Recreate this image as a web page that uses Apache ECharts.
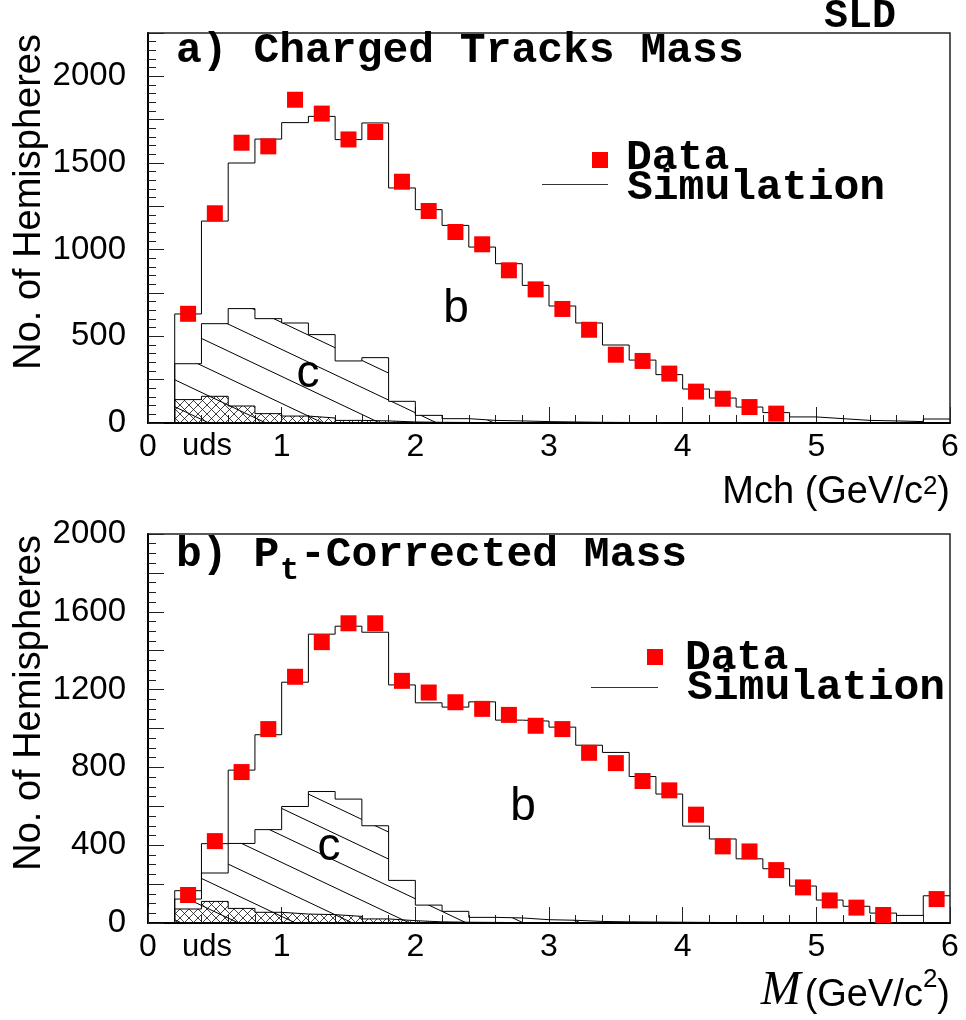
<!doctype html>
<html>
<head>
<meta charset="UTF-8">
<title>SLD hemisphere mass</title>
<script src="https://cdn.jsdelivr.net/npm/echarts@6/dist/echarts.min.js"></script>
<style>
  html, body { margin: 0; padding: 0; background: #fff; }
  #chart { width: 966px; height: 1020px; }
</style>
</head>
<body>
<div id="chart"></div>
<script>
// bins of 0.2 GeV/c2, lower edges
var binLow = [0.2, 0.4, 0.6, 0.8, 1.0, 1.2, 1.4, 1.6, 1.8, 2.0,
              2.2, 2.4, 2.6, 2.8, 3.0, 3.2, 3.4, 3.6, 3.8, 4.0,
              4.2, 4.4, 4.6, 4.8, 5.0, 5.2, 5.4, 5.6, 5.8];
var binWidth = 0.2;

// a) charged tracks mass
var dataA = [630, 1210, 1617, 1596, 1865, 1785, 1636, 1679, 1392, 1223,
             1102, 1031, 881, 771, 658, 538, 394, 358, 285, 181,
             140, 92, 54, null, null, null, null, null, null];
var simA  = [629, 1165, 1500, 1638, 1733, 1769, 1635, 1731, 1356, 1231,
             1140, 1015, 919, 794, 675, 577, 450, 363, 279, 196,
             144, 92, 60, 35, 25, 15, 12, 8, 23];
var charmA = [342, 573, 660, 602, 577, 510, 358, 377, 125, 44,
              25, 15, 12, 8, 6, 4, 3, 2, 2, 1,
              1, 0, 0, 0, 0, 0, 0, 0, 0];
var udsA  = [135, 154, 98, 54, 40, 29, 15, 12, 6, 4,
             3, 2, 1, 1, 0, 0, 0, 0, 0, 0,
             0, 0, 0, 0, 0, 0, 0, 0, 0];

// b) Pt-corrected mass
var dataB = [144, 421, 776, 997, 1266, 1444, 1541, 1541, 1245, 1185,
             1135, 1101, 1070, 1014, 997, 875, 822, 730, 682, 557,
             394, 368, 272, 183, 116, 79, 41, null, 123];
var simB  = [166, 408, 786, 968, 1238, 1485, 1526, 1495, 1224, 1132,
             1110, 1137, 1043, 1038, 1007, 914, 877, 753, 663, 498,
             432, 330, 279, 190, 118, 86, 51, 39, 140];
var charmB = [123, 257, 409, 480, 599, 676, 637, 500, 219, 92,
              60, 29, 26, 17, 14, 8, 6, 5, 4, 3,
              2, 2, 1, 1, 1, 0, 0, 0, 0];
var udsB  = [72, 111, 75, 55, 46, 43, 34, 21, 12, 6,
             4, 3, 2, 1, 1, 0, 0, 0, 0, 0,
             0, 0, 0, 0, 0, 0, 0, 0, 0];

var xTicks = [0, 6, 1];           // min, max, step
var yTopA = 2250, yStepA = 250, yLabA = 500;
var yTopB = 2000, yStepB = 200, yLabB = 400;

var SANS = '"Liberation Sans", Arial, sans-serif';
var MONO = '"Liberation Mono", "Courier New", monospace';

// hatch tiles
function hatch() {
  var w = 57, h = 27;
  var c = document.createElement('canvas');
  c.width = w; c.height = h;
  var ctx = c.getContext('2d');
  ctx.strokeStyle = '#000';
  ctx.lineWidth = 1;
  for (var k = -1; k <= 1; k++) {
    ctx.beginPath();
    ctx.moveTo(k * w - w, -h);
    ctx.lineTo(k * w + 2 * w, 2 * h);
    ctx.stroke();
  }
  return { image: c, repeat: 'repeat' };
}
function crossHatch() {
  var s = 9;
  var c = document.createElement('canvas');
  c.width = s; c.height = s;
  var ctx = c.getContext('2d');
  ctx.strokeStyle = '#111';
  ctx.lineWidth = 0.8;
  ctx.beginPath();
  ctx.moveTo(-1, -1); ctx.lineTo(s + 1, s + 1);
  ctx.moveTo(s + 1, -1); ctx.lineTo(-1, s + 1);
  ctx.stroke();
  return { image: c, repeat: 'repeat' };
}

function stepData(vals) {
  var d = [[binLow[0], 0]];
  for (var i = 0; i < binLow.length; i++) d.push([binLow[i], vals[i]]);
  var last = binLow.length - 1;
  d.push([binLow[last] + binWidth, vals[last]]);
  return d;
}
function pointData(vals) {
  var d = [];
  for (var i = 0; i < binLow.length; i++) {
    if (vals[i] != null) d.push([binLow[i] + binWidth / 2, vals[i]]);
  }
  return d;
}

function mkX(g) {
  return {
    type: 'value', gridIndex: g, min: xTicks[0], max: xTicks[1], interval: xTicks[2],
    axisLine: { show: true, onZero: false, lineStyle: { color: '#000', width: 2 } },
    axisTick: { inside: true, length: 16, lineStyle: { color: '#222', width: 1 } },
    minorTick: { show: true, splitNumber: 5, length: 8, lineStyle: { color: '#222', width: 1 } },
    splitLine: { show: false },
    axisLabel: { fontFamily: SANS, fontSize: 32, color: '#000', margin: 8 }
  };
}
function mkY(g, max, step, lab) {
  return {
    type: 'value', gridIndex: g, min: 0, max: max, interval: step,
    axisLine: { show: true, onZero: false, lineStyle: { color: '#000', width: 2 } },
    axisTick: { inside: true, length: 16, lineStyle: { color: '#222', width: 1 } },
    minorTick: { show: true, splitNumber: step === 250 ? 5 : 4, length: 8, lineStyle: { color: '#222', width: 1 } },
    splitLine: { show: false },
    axisLabel: {
      fontFamily: SANS, fontSize: 33, color: '#000', margin: 22,
      formatter: function (v) { return v % lab === 0 ? String(v) : ''; }
    }
  };
}

function histSeries(g, vals, fill, z) {
  var s = {
    type: 'line', xAxisIndex: g, yAxisIndex: g, step: 'end', symbol: 'none',
    data: stepData(vals), z: z, silent: true,
    lineStyle: { color: '#000', width: 1 }
  };
  if (fill) s.areaStyle = { color: fill, opacity: 1 };
  return s;
}
function dataSeries(g, vals) {
  return {
    type: 'scatter', xAxisIndex: g, yAxisIndex: g, symbol: 'rect', symbolSize: 16,
    itemStyle: { color: '#ff0000', opacity: 1 }, data: pointData(vals), z: 6
  };
}

function txt(x, y, s, font, align) {
  return { type: 'text', z: 100, style: { x: x, y: y, text: s, font: font, fill: '#000',
    textAlign: align || 'left', textVerticalAlign: 'middle' } };
}

var chart = echarts.init(document.getElementById('chart'));
var hp = hatch(), cp = crossHatch();

chart.setOption({
  animation: false,
  backgroundColor: '#fff',
  grid: [
    { left: 148, right: 16, top: 33, height: 390, show: true, borderColor: '#222', borderWidth: 1.5 },
    { left: 148, right: 16, top: 534, height: 389, show: true, borderColor: '#222', borderWidth: 1.5 }
  ],
  xAxis: [mkX(0), mkX(1)],
  yAxis: [mkY(0, yTopA, yStepA, yLabA), mkY(1, yTopB, yStepB, yLabB)],
  series: [
    histSeries(0, charmA, hp, 1),
    histSeries(0, udsA, cp, 2),
    histSeries(0, simA, null, 3),
    dataSeries(0, dataA),
    histSeries(1, charmB, hp, 1),
    histSeries(1, udsB, cp, 2),
    histSeries(1, simB, null, 3),
    dataSeries(1, dataB)
  ],
  graphic: [
    txt(860, 17, 'SLD', 'bold 40px ' + MONO, 'center'),
    txt(176, 51, 'a) Charged Tracks Mass', 'bold 43px ' + MONO),
    txt(176, 555, 'b) P', 'bold 43px ' + MONO),
    txt(280, 571, 't', 'bold 32px ' + MONO),
    txt(300, 555, '-Corrected Mass', 'bold 43px ' + MONO),

    { type: 'rect', z: 100, shape: { x: 592, y: 152, width: 16, height: 16 }, style: { fill: '#ff0000' } },
    { type: 'line', z: 100, shape: { x1: 542, y1: 184.5, x2: 608, y2: 184.5 }, style: { stroke: '#333', lineWidth: 1 } },
    txt(626, 158, 'Data', 'bold 43px ' + MONO),
    txt(627, 188, 'Simulation', 'bold 43px ' + MONO),

    { type: 'rect', z: 100, shape: { x: 647, y: 649, width: 16, height: 16 }, style: { fill: '#ff0000' } },
    { type: 'line', z: 100, shape: { x1: 591, y1: 687.5, x2: 658, y2: 687.5 }, style: { stroke: '#333', lineWidth: 1 } },
    txt(685, 658, 'Data', 'bold 43px ' + MONO),
    txt(687, 688, 'Simulation', 'bold 43px ' + MONO),

    txt(456, 309, 'b', '46px ' + SANS, 'center'),
    txt(308, 374, 'c', '46px ' + SANS, 'center'),
    txt(523, 807, 'b', '46px ' + SANS, 'center'),
    txt(329, 847, 'c', '46px ' + SANS, 'center'),

    txt(207, 446, 'uds', '31px ' + SANS, 'center'),
    txt(207, 947, 'uds', '31px ' + SANS, 'center'),

    { type: 'text', z: 100, x: 30, y: 34, rotation: Math.PI / 2,
      style: { x: 0, y: 0, text: 'No. of Hemispheres', font: '38px ' + SANS, fill: '#000',
        textAlign: 'right', textVerticalAlign: 'middle' } },
    { type: 'text', z: 100, x: 30, y: 535, rotation: Math.PI / 2,
      style: { x: 0, y: 0, text: 'No. of Hemispheres', font: '38px ' + SANS, fill: '#000',
        textAlign: 'right', textVerticalAlign: 'middle' } },

    { type: 'text', z: 100, style: { x: 950, y: 493, text: '{a|Mch (GeV/c}{s|2}{a|)}',
      textAlign: 'right', textVerticalAlign: 'middle', fill: '#000',
      rich: {
        a: { fontSize: 38, fontFamily: SANS, verticalAlign: 'bottom' },
        s: { fontSize: 26, fontFamily: SANS, verticalAlign: 'top' }
      } } },
    { type: 'text', z: 100, style: { x: 950, y: 991, text: '{m|M}{a|(GeV/c}{s|2}{a|)}',
      textAlign: 'right', textVerticalAlign: 'middle', fill: '#000',
      rich: {
        m: { fontSize: 48, fontFamily: '"Liberation Serif", "Times New Roman", serif', fontStyle: 'italic',
             verticalAlign: 'bottom', padding: [0, 4, 0, 0] },
        a: { fontSize: 38, fontFamily: SANS, verticalAlign: 'bottom' },
        s: { fontSize: 26, fontFamily: SANS, verticalAlign: 'top' }
      } } }
  ]
});
</script>
</body>
</html>
